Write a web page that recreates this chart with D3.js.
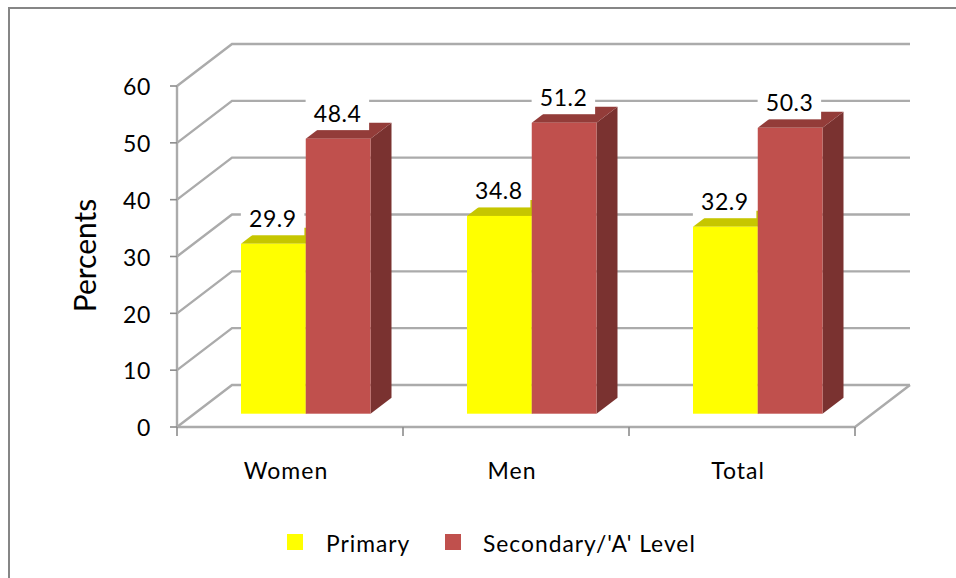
<!DOCTYPE html>
<html>
<head>
<meta charset="utf-8">
<script src="https://cdn.jsdelivr.net/npm/d3@7"></script>
<style>
  html, body { margin: 0; padding: 0; background: #fff; }
  svg { display: block; }
  text { font-family: Lato, "Open Sans", sans-serif; fill: #000; }
</style>
</head>
<body>
<svg id="chart" width="956" height="578"></svg>
<script>
const categories = ["Women", "Men", "Total"];
const seriesNames = ["Primary", "Secondary/'A' Level"];
const primaryValues = [29.9, 34.8, 32.9];
const secondaryValues = [48.4, 51.2, 50.3];
const yTicks = [0, 10, 20, 30, 40, 50, 60];

const palette = {
  Primary: { front: "#ffff00", top: "#c6c600", side: "#999900" },
  "Secondary/'A' Level": { front: "#c0504d", top: "#933c39", side: "#7a3230" }
};

const svg = d3.select("#chart");

// Frame: only the top and left edges are visible.
svg.append("path")
  .attr("d", "M9,578V8H956")
  .attr("fill", "none").attr("stroke", "#868686").attr("stroke-width", 2);

const y = d3.scaleLinear().domain([0, 60]).range([427, 86]);
const x = d3.scaleBand().domain(categories).range([177, 855]);
const inner = d3.scaleBand().domain(seriesNames).range([64, 193.5]);

const wallDx = 55, wallDy = -42;     // depth of the chart box
const barDx = 21, barDy = -16;       // depth of a bar
const barBase = -13.3;               // bars stand slightly behind the front edge

const grid = svg.append("g");
const gridColor = "#ababab";
const gridLine = (sel) => sel.attr("fill", "none").attr("stroke", gridColor).attr("stroke-width", 2.4);

// Wall lines and their slanted continuation on the side wall.
grid.selectAll("path.wall").data(yTicks).join("path")
  .attr("class", "wall")
  .attr("d", d => `M${x.range()[0]},${y(d)}l${wallDx},${wallDy}H${x.range()[1] + wallDx}`)
  .call(gridLine);

// Floor: front edge and right edge.
grid.append("path")
  .attr("d", `M${x.range()[0]},${y(0)}H${x.range()[1]}l${wallDx},${wallDy}`)
  .call(gridLine);

// Value axis and its ticks.
grid.append("path")
  .attr("d", `M${x.range()[0]},${y(60)}V${y(0)}`)
  .call(gridLine);
grid.selectAll("line.ytick").data(yTicks).join("line")
  .attr("class", "ytick")
  .attr("x1", x.range()[0] - 7).attr("x2", x.range()[0])
  .attr("y1", d => y(d)).attr("y2", d => y(d))
  .attr("stroke", "#8c8c8c").attr("stroke-width", 1.6);

// Category ticks, one at each band boundary.
const xTickPos = categories.map(c => x(c)).concat(x.range()[1]);
grid.selectAll("line.xtick").data(xTickPos).join("line")
  .attr("class", "xtick")
  .attr("x1", d => d).attr("x2", d => d)
  .attr("y1", y(0)).attr("y2", y(0) + 9)
  .attr("stroke", "#8c8c8c").attr("stroke-width", 1.6);

// Bars: side and top faces are drawn before the front face.
const rows = [];
seriesNames.forEach((name, si) => {
  const vals = si === 0 ? primaryValues : secondaryValues;
  categories.forEach((c, ci) => rows.push({ name, cat: c, value: vals[ci] }));
});

const bars = svg.append("g").selectAll("g").data(rows).join("g");
const bx = d => x(d.cat) + inner(d.name);
const bw = inner.bandwidth();
const by = d => y(d.value) + barBase;
const bb = y(0) + barBase;

bars.append("path")
  .attr("d", d => `M${bx(d) + bw},${by(d)}l${barDx},${barDy}V${bb + barDy}l${-barDx},${-barDy}Z`)
  .attr("fill", d => palette[d.name].side);
bars.append("path")
  .attr("d", d => `M${bx(d)},${by(d)}l${barDx},${barDy}h${bw}l${-barDx},${-barDy}Z`)
  .attr("fill", d => palette[d.name].top);
bars.append("rect")
  .attr("x", bx).attr("y", by)
  .attr("width", bw).attr("height", d => bb - by(d))
  .attr("fill", d => palette[d.name].front);

// Value labels sit on white plates above each bar.
const labels = svg.append("g").selectAll("g").data(rows).join("g")
  .attr("transform", d => `translate(${bx(d) + bw / 2 - 0.5},${by(d) - 25})`);
labels.append("rect")
  .attr("x", -32).attr("y", -16.5).attr("width", 63.5).attr("height", 33)
  .attr("fill", "#fff");
labels.append("text")
  .attr("text-anchor", "middle").attr("dy", "0.36em")
  .attr("font-size", 23).attr("letter-spacing", 0.6)
  .text(d => d.value.toFixed(1));

// Value axis labels.
svg.append("g").selectAll("text").data(yTicks).join("text")
  .attr("x", 151).attr("y", d => y(d) + 1)
  .attr("dy", "0.36em").attr("text-anchor", "end")
  .attr("font-size", 23).attr("letter-spacing", 0.6)
  .text(d => d);

// Category labels.
svg.append("g").selectAll("text").data(categories).join("text")
  .attr("x", c => x(c) + x.bandwidth() / 2 - 4).attr("y", 471)
  .attr("dy", "0.36em").attr("text-anchor", "middle")
  .attr("font-size", 23).attr("letter-spacing", 1)
  .text(c => c);

// Axis title.
svg.append("text")
  .attr("transform", "translate(85,255.5) rotate(-90)")
  .attr("text-anchor", "middle").attr("dy", "0.36em")
  .attr("font-size", 30)
  .text("Percents");

// Legend.
const legendX = [287, 445];
const legendTextX = [326, 483];
const legend = svg.append("g").selectAll("g").data(seriesNames).join("g");
legend.append("rect")
  .attr("x", (d, i) => legendX[i]).attr("y", 534)
  .attr("width", 16).attr("height", 16)
  .attr("fill", d => palette[d].front);
legend.append("text")
  .attr("x", (d, i) => legendTextX[i]).attr("y", 544)
  .attr("dy", "0.36em").attr("font-size", 22.8).attr("letter-spacing", 1)
  .text(d => d);
</script>
</body>
</html>
